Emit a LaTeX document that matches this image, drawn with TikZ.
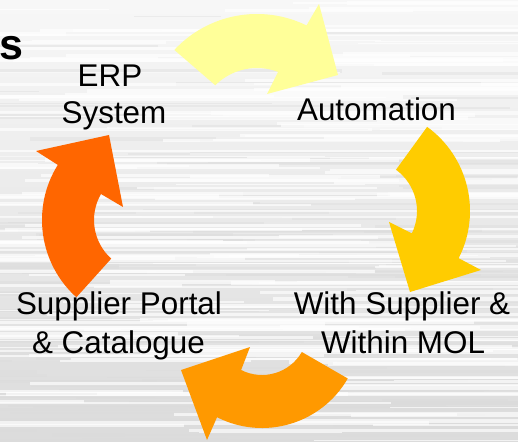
\documentclass[tikz,border=0pt]{standalone}
\usepackage{fontspec}
\setmainfont{Liberation Sans}
\usetikzlibrary{calc}
\definecolor{arrowA}{HTML}{FFFF99}
\definecolor{arrowB}{HTML}{FFCC00}
\definecolor{arrowC}{HTML}{FF9900}
\definecolor{arrowD}{HTML}{FF6600}
\begin{document}
\begin{tikzpicture}[x=1bp,y=-1bp,
  lbl/.style={anchor=base,inner sep=0pt,font=\fontsize{31.4bp}{37.7bp}\selectfont,text=black},
  lightstreak/.style={fill=white,opacity=0.65},
  darkstreak/.style={fill=black!14,opacity=0.4}]
\useasboundingbox (0,0) rectangle (518,442);
% textured grey backdrop with horizontal streaks
\begin{scope}
\clip (0,0) rectangle (518,442);
\shade[top color=black!3,bottom color=black!14] (0,0) rectangle (518,442);
\pgfmathsetseed{2718}
\foreach \k in {1,...,170}{
  \pgfmathsetmacro{\yy}{sqrt(rnd)*442}
  \pgfmathsetmacro{\xa}{rnd*560-120}
  \pgfmathsetmacro{\len}{60+rnd*380}
  \pgfmathsetmacro{\hh}{1+rnd*3}
  \fill[darkstreak] (\xa,\yy) rectangle ++(\len,\hh);
}
\foreach \k in {1,...,200}{
  \pgfmathsetmacro{\yy}{rnd*442}
  \pgfmathsetmacro{\xa}{rnd*560-160}
  \pgfmathsetmacro{\len}{120+rnd*500}
  \pgfmathsetmacro{\hh}{1+rnd*3}
  \fill[lightstreak] (\xa,\yy) rectangle ++(\len,\hh);
}
\end{scope}

% centres of the four curved arrows
\coordinate (cT) at (257,127);
\coordinate (cR) at (366,211);
\coordinate (cB) at (262,329);
\coordinate (cL) at (146,220);

% top arrow (pale yellow)
\fill[arrowA] ([shift={(-137:113)}]cT) arc[start angle=-137,end angle=-64,radius=113]
  -- (319,4) -- (338,75) -- (267,94)
  -- ([shift={(-69:59)}]cT) arc[start angle=-69,end angle=-135,radius=59] -- cycle;
% right arrow (gold)
\fill[arrowB] ([shift={(-54:104)}]cR) arc[start angle=-54,end angle=27,radius=104]
  -- (481,270) -- (410,292) -- (389,222)
  -- ([shift={(26:51)}]cR) arc[start angle=26,end angle=-54,radius=51] -- cycle;
% bottom arrow (orange)
\fill[arrowC] ([shift={(30:99)}]cB) arc[start angle=30,end angle=117,radius=99]
  -- (207,440) -- (181,370) -- (250,347)
  -- ([shift={(117:46)}]cB) arc[start angle=117,end angle=30,radius=46] -- cycle;
% left arrow (red orange)
\fill[arrowD] ([shift={(132:104)}]cL) arc[start angle=132,end angle=212,radius=104]
  -- (36,151) -- (109,135) -- (123,207)
  -- ([shift={(210:52)}]cL) arc[start angle=210,end angle=132,radius=52] -- cycle;

% labels
\node[anchor=base west,inner sep=0pt,font=\fontsize{43bp}{50bp}\selectfont\bfseries] (title) at (-1,59.5) {s};
\node[lbl] (erp1) at (110,87) {ERP};
\node[lbl] (erp2) at (114,124) {System};
\node[lbl] (auto) at (376.5,121) {Automation};
\node[lbl] (sup1) at (402,314) {With Supplier \&};
\node[lbl] (sup2) at (403,353) {Within MOL};
\node[lbl] (por1) at (119,314) {Supplier Portal};
\node[lbl] (por2) at (118.5,353) {\& Catalogue};
\end{tikzpicture}
\end{document}
